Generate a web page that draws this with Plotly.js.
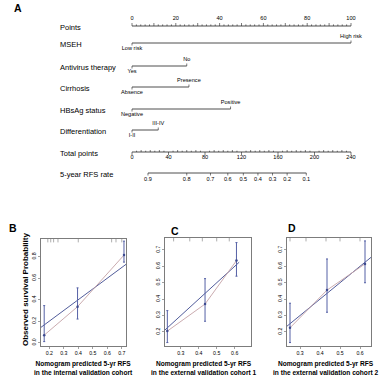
<!DOCTYPE html>
<html><head><meta charset="utf-8">
<script src="https://cdn.plot.ly/plotly-3.0.1.min.js"></script>
<style>html,body{margin:0;padding:0;background:#fff}</style>
</head><body><div id="chart" style="width:392px;height:381px"></div>
<script>
// ---------- Nomogram data ----------
const variableNames = ["Points","MSEH","Antivirus therapy","Cirrhosis","HBsAg status","Differentiation","Total points","5-year RFS rate"];
const msehLevels = ["Low risk","High risk"];        const msehPoints = [0,100];
const antivirusLevels = ["Yes","No"];               const antivirusPoints = [0,25];
const cirrhosisLevels = ["Absence","Presence"];     const cirrhosisPoints = [0,26];
const hbsagLevels = ["Negative","Positive"];        const hbsagPoints = [0,45];
const diffLevels = ["I-II","III-IV"];               const diffPoints = [0,12];
const pointsTicks = [0,20,40,60,80,100];
const totalTicks = [0,40,80,120,160,200,240];
const rfsLabels = ["0.9","0.8","0.7","0.6","0.5","0.4","0.3","0.2","0.1"];
const rfsTotalPoints = [17.5,60,86,105,122,138,154,170,191];

// ---------- Calibration data ----------
const calBx = [0.165,0.395,0.715];
const calBobs = [0.07,0.335,0.815];
const calBlo = [0.01,0.22,0.75];
const calBhi = [0.345,0.51,0.945];
const calBideal = [0.143,0.729];
const calBrug = [0.19,0.21,0.23,0.26,0.40,0.63,0.66,0.70];

const calCx = [0.225,0.435,0.61];
const calCobs = [0.205,0.37,0.635];
const calClo = [0.135,0.265,0.54];
const calChi = [0.33,0.525,0.745];
const calCideal = [0.212,0.625];
const calCrug = [0.26,0.35,0.42,0.50,0.57];

const calDx = [0.25,0.435,0.625];
const calDobs = [0.225,0.455,0.615];
const calDlo = [0.135,0.32,0.50];
const calDhi = [0.375,0.645,0.755];
const calDideal = [0.235,0.655];
const calDrug = [0.25,0.33,0.43,0.50,0.60];

// ---------- geometry (pixels) ----------
const W = 392, H = 381;
const px0 = 132, pxPerPoint = 2.19;          // points scale
const rowY = [26,43,66,87,109,130,152,173];  // ruler lines
const labelX = 58;
const FONT = "Liberation Sans, Arial, sans-serif";
const INK = "#000000";

const traces = [];
const lx=[], ly=[], tx=[], ty=[];
const txtX=[], txtY=[], txtT=[];
function hline(a,b,y){ lx.push(a,b,null); ly.push(y,y,null); }
function tick(x,y,len){ tx.push(x,x,null); ty.push(y,y+len,null); }
function label(x,y,t){ txtX.push(x); txtY.push(y); txtT.push(t); }

// Points ruler
hline(0,100,rowY[0]);
for(let v=0; v<=100; v+=2){ tick(v,rowY[0], (v%10===0)?-3:-1.6); }
pointsTicks.forEach(v=>label(v,rowY[0]-7,String(v)));

// category rows
const cats = [[msehLevels,msehPoints],[antivirusLevels,antivirusPoints],[cirrhosisLevels,cirrhosisPoints],[hbsagLevels,hbsagPoints],[diffLevels,diffPoints]];
cats.forEach((c,i)=>{
  const y=rowY[i+1], lv=c[0], pt=c[1];
  hline(Math.min(...pt),Math.max(...pt),y);
  lv.forEach((name,j)=>{
    const up = j===lv.length-1;
    tick(pt[j],y, up?-2.5:2.5);
    label(pt[j], up? y-6 : y+6, name);
  });
});

// Total points ruler (0-240 mapped onto 0-100)
const tScale = 100/240;
hline(0,240*tScale,rowY[6]);
for(let v=0; v<=240; v+=5){ tick(v*tScale,rowY[6], (v%40===0)?3:(v%10===0?-2:-1.3)); }
totalTicks.forEach(v=>label(v*tScale,rowY[6]+6,String(v)));

// RFS ruler
hline(rfsTotalPoints[0]*tScale, rfsTotalPoints[rfsTotalPoints.length-1]*tScale, rowY[7]);
rfsTotalPoints.forEach((v,i)=>{ tick(v*tScale,rowY[7],2.5); label(v*tScale,rowY[7]+7,rfsLabels[i]); });

traces.push({x:lx,y:ly,mode:'lines',line:{color:'#222',width:0.8},xaxis:'x',yaxis:'y',hoverinfo:'skip',showlegend:false});
traces.push({x:tx,y:ty,mode:'lines',line:{color:'#222',width:0.6},xaxis:'x',yaxis:'y',hoverinfo:'skip',showlegend:false});
traces.push({x:txtX,y:txtY,text:txtT,mode:'text',textfont:{family:FONT,size:5.6,color:INK},xaxis:'x',yaxis:'y',hoverinfo:'skip',showlegend:false});

// ---------- calibration panels ----------
const BLUE = "#3d4a8f", PINK = "#c4a2a6", BAR = "#5561a6";
function calib(xs,obs,lo,hi,ideal,rug,rugY,xa,ya){
  traces.push({x:ideal,y:ideal,mode:'lines',line:{color:BLUE,width:0.9},xaxis:xa,yaxis:ya,showlegend:false,hoverinfo:'skip'});
  traces.push({x:xs,y:obs,mode:'lines',line:{color:PINK,width:0.9},xaxis:xa,yaxis:ya,showlegend:false,hoverinfo:'skip'});
  traces.push({x:xs,y:obs,mode:'markers',marker:{color:BLUE,size:2.5},
    error_y:{type:'data',symmetric:false,array:hi.map((h,i)=>h-obs[i]),arrayminus:obs.map((o,i)=>o-lo[i]),color:BAR,thickness:1,width:1},
    xaxis:xa,yaxis:ya,showlegend:false,hoverinfo:'skip'});
  traces.push({x:rug,y:rug.map(()=>rugY),mode:'markers',marker:{symbol:'line-ns-open',size:3,color:'#777',line:{color:'#777',width:0.6}},xaxis:xa,yaxis:ya,showlegend:false,hoverinfo:'skip'});
}
// axis boxes in pixels: [left,right,top,bottom]
const boxB=[41,126,239,346], boxC=[165,251,238,346], boxD=[287,371,238,346];
const rangeBx=[0.143,0.729], rangeBy=[-0.031,0.965];
const rangeCx=[0.212,0.691], rangeCy=[0.114,0.773];
const rangeDx=[0.235,0.655], rangeDy=[0.114,0.773];
calib(calBx,calBobs,calBlo,calBhi,calBideal,calBrug,rangeBy[1]-0.012,'x2','y2');
calib(calCx,calCobs,calClo,calChi,calCideal,calCrug,rangeCy[1]-0.008,'x3','y3');
calib(calDx,calDobs,calDlo,calDhi,calDideal,calDrug,rangeDy[1]-0.008,'x4','y4');

function xdom(b){return [b[0]/W,b[1]/W];}
function ydom(b){return [1-b[3]/H,1-b[2]/H];}
const calAxis = {showline:true,mirror:true,linecolor:'#444',linewidth:0.7,ticks:'outside',ticklen:2,tickwidth:0.5,tickcolor:'#444',
  showgrid:false,zeroline:false,tickfont:{family:FONT,size:5.2,color:INK},tickformat:'.1f',fixedrange:true};

const layout = {
  width:W,height:H,margin:{l:0,r:0,t:0,b:0},paper_bgcolor:'#fff',plot_bgcolor:'rgba(0,0,0,0)',showlegend:false,
  xaxis:{domain:[0,1],range:[-px0/pxPerPoint,(W-px0)/pxPerPoint],visible:false,fixedrange:true},
  yaxis:{domain:[0,1],range:[H,0],visible:false,fixedrange:true},
  xaxis2:Object.assign({},calAxis,{domain:xdom(boxB),range:rangeBx,dtick:0.1,anchor:'y2'}),
  yaxis2:Object.assign({},calAxis,{domain:ydom(boxB),range:rangeBy,dtick:0.2,tickangle:-90,anchor:'x2'}),
  xaxis3:Object.assign({},calAxis,{domain:xdom(boxC),range:rangeCx,dtick:0.1,anchor:'y3'}),
  yaxis3:Object.assign({},calAxis,{domain:ydom(boxC),range:rangeCy,dtick:0.1,tickangle:-90,anchor:'x3'}),
  xaxis4:Object.assign({},calAxis,{domain:xdom(boxD),range:rangeDx,dtick:0.1,anchor:'y4'}),
  yaxis4:Object.assign({},calAxis,{domain:ydom(boxD),range:rangeDy,dtick:0.1,tickangle:-90,anchor:'x4'}),
  annotations:[]
};
const ann = layout.annotations;
variableNames.forEach((n,i)=>ann.push({xref:'paper',yref:'y',x:labelX/W,y:rowY[i]+1,text:n,showarrow:false,xanchor:'left',yanchor:'middle',font:{family:FONT,size:7.5,color:INK}}));
[["A",18,8],["B",13,228],["C",175,231],["D",292,228]].forEach(p=>ann.push({xref:'paper',yref:'paper',x:p[1]/W,y:1-p[2]/H,text:'<b>'+p[0]+'</b>',showarrow:false,xanchor:'center',yanchor:'middle',font:{family:FONT,size:10.5,color:'#000'}}));
ann.push({xref:'paper',yref:'paper',x:25/W,y:1-290/H,text:'<b>Observed survival Probability</b>',textangle:-90,showarrow:false,xanchor:'center',yanchor:'middle',font:{family:FONT,size:8,color:INK}});
[["in the internal validation cohort",83],["in the external validation cohort 1",203],["in the external validation cohort 2",325]].forEach(t=>
  ann.push({xref:'paper',yref:'paper',x:t[1]/W,y:1-368/H,text:'<b>Nomogram predicted 5-yr RFS<br>'+t[0]+'</b>',showarrow:false,xanchor:'center',yanchor:'middle',align:'center',font:{family:FONT,size:6.6,color:INK}}));

Plotly.newPlot('chart',traces,layout,{staticPlot:true,displayModeBar:false});
</script></body></html>
